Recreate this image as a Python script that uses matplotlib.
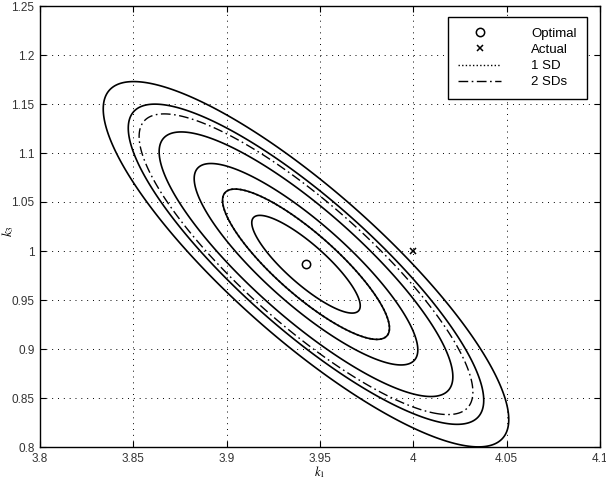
import numpy as np
import matplotlib
matplotlib.use('Agg')
import matplotlib.pyplot as plt
from matplotlib.lines import Line2D

# values
center_k1 = 3.9425
center_k3 = 0.9865
sd_k1 = 0.0447
sd_k3 = 0.0767
rho = -0.85
solid_levels = [0.65, 1.0, 1.34, 1.76, 2.13, 2.43]   # in SD units
sd1_level = [1.0]
sd2_level = [2.0]
optimal = (3.9425, 0.9865)
actual = (4.0, 1.0)

x_ticks = [3.8, 3.85, 3.9, 3.95, 4.0, 4.05, 4.1]
x_ticklabels = ['3.8', '3.85', '3.9', '3.95', '4', '4.05', '4.1']
y_ticks = [0.8, 0.85, 0.9, 0.95, 1.0, 1.05, 1.1, 1.15, 1.2, 1.25]
y_ticklabels = ['0.8', '0.85', '0.9', '0.95', '1', '1.05', '1.1', '1.15', '1.2', '1.25']
legend_labels = ['Optimal', 'Actual', '1 SD', '2 SDs']

plt.rcParams['font.family'] = ['Liberation Sans', 'DejaVu Sans']
plt.rcParams['mathtext.fontset'] = 'stix'
plt.rcParams['lines.dashdot_pattern'] = [7, 2.5, 1.2, 2.5]
plt.rcParams['lines.dotted_pattern'] = [1, 1.6]

fig = plt.figure(figsize=(6.06, 4.8), dpi=100)
ax = fig.add_axes([40 / 606, 33 / 480, 560 / 606, 441 / 480])

# mahalanobis distance grid
k1 = np.linspace(3.8, 4.1, 600)
k3 = np.linspace(0.8, 1.25, 600)
K1, K3 = np.meshgrid(k1, k3)
u = (K1 - center_k1) / sd_k1
v = (K3 - center_k3) / sd_k3
D = np.sqrt((u**2 - 2 * rho * u * v + v**2) / (1 - rho**2))

ax.contour(K1, K3, D, levels=solid_levels, colors='k', linewidths=1.2, linestyles='solid')
ax.contour(K1, K3, D, levels=sd1_level, colors='k', linewidths=1.2, linestyles='dotted')
ax.contour(K1, K3, D, levels=sd2_level, colors='k', linewidths=1.0, linestyles='dashdot')

ax.plot(optimal[0], optimal[1], 'o', mfc='none', mec='k', ms=6, mew=1.1)
ax.plot(actual[0], actual[1], 'x', color='k', ms=4.5, mew=1.1)

ax.set_xlim(3.8, 4.1)
ax.set_ylim(0.8, 1.25)
ax.set_xticks(x_ticks)
ax.set_xticklabels(x_ticklabels)
ax.set_yticks(y_ticks)
ax.set_yticklabels(y_ticklabels)
ax.tick_params(direction='in', top=True, right=True, length=4, width=0.8,
               labelsize=8.5, labelcolor='#333333', pad=4)
ax.grid(True, color='k', linestyle=(0, (1, 5)), linewidth=0.7)
for s in ax.spines.values():
    s.set_linewidth(1.0)

ax.set_xlabel('$k_1$', fontsize=9)
ax.set_ylabel('$k_3$', fontsize=9.5)
ax.xaxis.set_label_coords(0.5, -0.039)
ax.yaxis.set_label_coords(-0.043, 0.49)

handles = [
    Line2D([], [], marker='o', ls='none', mfc='none', mec='k', ms=6, mew=1.1),
    Line2D([], [], marker='x', ls='none', color='k', ms=4.5, mew=1.1),
    Line2D([], [], color='k', ls='dotted', lw=1.0),
    Line2D([], [], color='k', ls='dashdot', lw=1.0),
]
leg = ax.legend(handles, legend_labels, loc='upper right', bbox_to_anchor=(0.977, 0.975),
                borderaxespad=0, fancybox=False, framealpha=1, edgecolor='k',
                fontsize=9.5, handlelength=3.2, handletextpad=2.3, labelspacing=0.3,
                borderpad=0.8)
leg.get_frame().set_linewidth(1.0)

fig.savefig('out.png', dpi=100)
